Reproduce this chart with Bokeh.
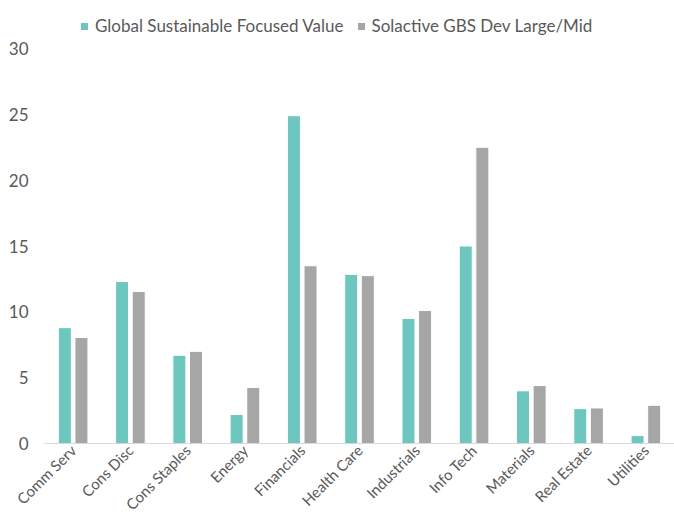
from math import pi
from bokeh.plotting import figure
from bokeh.models import ColumnDataSource, FixedTicker, Legend, LegendItem, Range1d
from bokeh.transform import dodge
from bokeh.embed import file_html
from bokeh.resources import INLINE

categories = ["Comm Serv", "Cons Disc", "Cons Staples", "Energy", "Financials",
              "Health Care", "Industrials", "Info Tech", "Materials", "Real Estate", "Utilities"]
fund = [8.8, 12.3, 6.7, 2.2, 24.9, 12.85, 9.5, 15.0, 4.0, 2.65, 0.6]
bench = [8.05, 11.55, 7.0, 4.25, 13.5, 12.75, 10.1, 22.5, 4.4, 2.7, 2.9]
series_names = ["Global Sustainable Focused Value", "Solactive GBS Dev Large/Mid"]
y_ticks = [0, 5, 10, 15, 20, 25, 30]

TEAL = "#6DC7BE"
GRAY = "#A6A6A6"
TEXT = "#595959"
FONT = "Lato"

src = ColumnDataSource(dict(x=list(range(len(categories))), fund=fund, bench=bench))

p = figure(frame_width=630, frame_height=443, output_backend="svg", toolbar_location=None,
           x_range=Range1d(-0.5, 10.5), y_range=Range1d(0, 33.65),
           min_border_left=44, min_border_right=0, min_border_top=0, min_border_bottom=0)

r1 = p.vbar(x=dodge("x", -0.145), top="fund", width=0.227, source=src,
            fill_color=TEAL, line_color="white", line_width=1)
r2 = p.vbar(x=dodge("x", 0.145), top="bench", width=0.227, source=src,
            fill_color=GRAY, line_color="white", line_width=1)

p.xaxis.ticker = FixedTicker(ticks=list(range(len(categories))))
p.xaxis.major_label_overrides = {i: c for i, c in enumerate(categories)}
p.xaxis.major_label_orientation = pi / 4
p.xaxis.axis_line_color = "#D9D9D9"
p.xaxis.axis_line_width = 1
p.xaxis.major_tick_line_color = None
p.xaxis.minor_tick_line_color = None
p.xaxis.major_tick_out = 0
p.xaxis.major_tick_in = 0
p.xaxis.major_label_standoff = 4
p.xaxis.major_label_text_font = FONT
p.xaxis.major_label_text_font_size = "15px"
p.xaxis.major_label_text_color = TEXT

p.yaxis.ticker = FixedTicker(ticks=y_ticks)
p.yaxis.axis_line_color = None
p.yaxis.major_tick_line_color = None
p.yaxis.minor_tick_line_color = None
p.yaxis.major_tick_out = 0
p.yaxis.major_tick_in = 0
p.yaxis.major_label_standoff = 16
p.yaxis.major_label_text_font = FONT
p.yaxis.major_label_text_font_size = "17px"
p.yaxis.major_label_text_color = TEXT

p.xgrid.grid_line_color = None
p.ygrid.grid_line_color = None
p.outline_line_color = None

legend = Legend(items=[LegendItem(label=series_names[0], renderers=[r1]),
                       LegendItem(label=series_names[1], renderers=[r2])],
                orientation="horizontal", location=(35, 407),
                label_text_font=FONT, label_text_font_size="17px", label_text_color=TEXT,
                glyph_width=10, glyph_height=10, label_standoff=6, spacing=12,
                border_line_color=None, background_fill_alpha=0,
                padding=4, margin=0)
p.add_layout(legend)

open("out.html", "w").write(file_html(p, INLINE))
